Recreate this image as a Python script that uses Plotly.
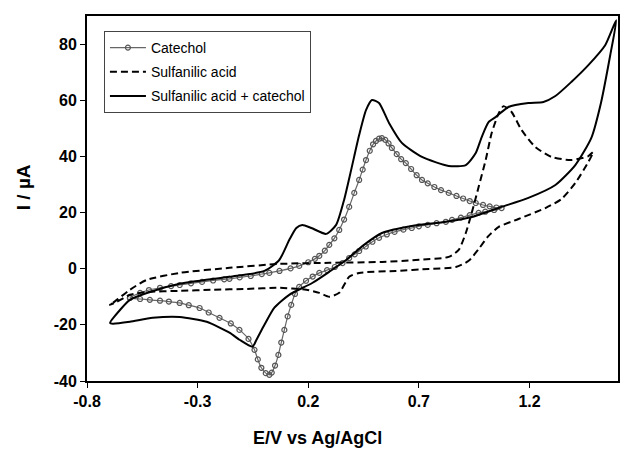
import plotly.graph_objects as go

# ---------------- data (E in V, I in uA) ----------------
cat_E = [-0.606, -0.56, -0.52, -0.47, -0.42, -0.381, -0.33, -0.28, -0.23, -0.18, -0.156, -0.11, -0.06, -0.01,
         0.024, 0.07, 0.12, 0.159, 0.20, 0.23, 0.250, 0.275, 0.295, 0.318, 0.340, 0.362, 0.385, 0.408, 0.430,
         0.446, 0.461, 0.478, 0.493, 0.506, 0.520, 0.533, 0.548, 0.563, 0.578, 0.60, 0.62, 0.641, 0.665, 0.69,
         0.714, 0.74, 0.77, 0.80, 0.835, 0.87, 0.90, 0.93, 0.957, 0.99, 1.02, 1.05, 1.074,
         1.04, 1.00, 0.970, 0.93, 0.89, 0.85, 0.822, 0.78, 0.74, 0.70, 0.668, 0.63, 0.59, 0.555, 0.520, 0.49,
         0.46, 0.43, 0.41, 0.385, 0.355, 0.32, 0.285, 0.25, 0.22, 0.19, 0.159, 0.14, 0.123, 0.107, 0.092, 0.078,
         0.065, 0.05, 0.035, 0.024, 0.008, -0.012, -0.028, -0.043, -0.07, -0.111, -0.15, -0.201, -0.25, -0.291,
         -0.34, -0.381, -0.43, -0.47, -0.516, -0.56, -0.606]
cat_I = [-10.4, -8.6, -7.6, -6.8, -6.2, -5.8, -5.2, -4.7, -4.2, -3.8, -3.6, -3.1, -2.6, -1.9,
         -1.5, -0.8, 0.1, 1.0, 2.3, 3.5, 4.6, 6.4, 8.5, 10.8, 13.8, 17.5, 22.0, 27.0, 31.6,
         35.3, 38.7, 42.0, 44.3, 45.5, 46.3, 46.5, 45.9, 44.6, 43.0, 40.8, 39.0, 37.6, 35.5, 33.3,
         31.6, 30.4, 29.1, 28.0, 27.0, 25.9, 25.0, 24.1, 23.4, 22.7, 22.2, 21.8, 21.6,
         20.9, 20.3, 19.9, 19.1, 18.2, 17.4, 16.7, 16.2, 15.6, 15.1, 14.5, 13.9, 13.1, 12.2, 11.0, 9.6,
         7.9, 6.3, 5.1, 3.8, 2.0, 0.6, -0.5, -1.5, -2.8, -4.3, -6.5, -9.0, -12.9, -17.0, -21.8, -26.3,
         -30.7, -34.5, -37.0, -37.8, -37.2, -35.3, -32.3, -28.9, -25.0, -21.8, -19.5, -17.5, -15.6, -14.0,
         -13.0, -12.2, -11.7, -11.4, -11.1, -10.8, -10.4]

sa_E = [-0.696, -0.683, -0.606, -0.530, -0.381, -0.156, 0.069, 0.295, 0.533, 0.686, 0.835, 0.880, 0.912,
        0.939, 0.970, 1.002, 1.029, 1.061, 1.083, 1.119, 1.164, 1.227, 1.299, 1.389, 1.466, 1.488,
        1.466, 1.407, 1.344, 1.272, 1.150, 1.061, 1.015, 0.970, 0.925, 0.867, 0.745, 0.596, 0.430, 0.385,
        0.340, 0.295, 0.250, 0.191, 0.069, -0.079, -0.232, -0.381, -0.530, -0.606, -0.665, -0.696]
sa_I = [-12.9, -12.2, -7.5, -4.0, -1.5, 0.3, 1.7, 2.1, 2.4, 3.1, 4.2, 6.7, 12.7,
        19.9, 29.1, 38.7, 48.3, 55.4, 57.9, 55.8, 49.4, 43.3, 39.8, 38.7, 40.1, 41.6,
        38.0, 30.5, 24.8, 21.6, 17.7, 14.9, 11.7, 7.0, 2.8, 0.6, -0.1, -0.8, -1.5, -2.9,
        -8.6, -10.0, -8.6, -7.5, -6.8, -7.2, -7.5, -7.9, -8.3, -9.3, -11.8, -12.9]

mix_E = [-0.696, -0.651, -0.606, -0.516, -0.381, -0.156, 0.002, 0.069, 0.114, 0.146, 0.173, 0.214, 0.281,
         0.326, 0.362, 0.394, 0.430, 0.461, 0.488, 0.520, 0.565, 0.623, 0.714, 0.835, 0.912, 0.957, 0.984,
         1.015, 1.047, 1.105, 1.195, 1.263, 1.317, 1.389, 1.466, 1.542, 1.592,
         1.565, 1.524, 1.479, 1.407, 1.317, 1.195, 1.074, 0.939, 0.822, 0.668, 0.533, 0.452, 0.371, 0.295,
         0.218, 0.114, 0.047, 0.002, -0.034, -0.052, -0.111, -0.156, -0.259, -0.381, -0.503, -0.606, -0.683,
         -0.696]
mix_I = [-19.3, -14.7, -11.1, -8.3, -5.4, -2.9, -0.8, 3.1, 10.2, 14.5, 15.6, 14.5, 12.4,
         15.6, 24.5, 35.2, 47.6, 56.5, 60.1, 59.0, 51.9, 44.8, 39.8, 36.6, 36.9, 41.2, 46.9,
         52.2, 54.0, 57.6, 59.0, 59.4, 61.5, 66.5, 72.5, 79.6, 88.5,
         76.1, 59.4, 46.5, 36.9, 29.8, 25.2, 22.0, 18.4, 16.7, 15.2, 12.7, 8.5, 3.1, -1.1,
         -5.1, -9.3, -13.9, -20.0, -25.3, -27.8, -25.3, -22.8, -18.9, -17.2, -17.5, -18.9, -19.6,
         -19.3]

series_names = ["Catechol", "Sulfanilic acid", "Sulfanilic acid + catechol"]
x_ticks = [-0.8, -0.3, 0.2, 0.7, 1.2]
y_ticks = [-40, -20, 0, 20, 40, 60, 80]

FONT = "Arial, Liberation Sans, sans-serif"

fig = go.Figure()
fig.add_trace(go.Scatter(
    x=cat_E, y=cat_I, name=series_names[0], mode="lines+markers",
    line=dict(color="#666666", width=1.2, shape="spline", smoothing=0.6),
    marker=dict(symbol="circle-open", size=5, color="#555555", line=dict(width=1.2)),
    legendgroup="a"))
fig.add_trace(go.Scatter(
    x=sa_E, y=sa_I, name=series_names[1], mode="lines",
    line=dict(color="black", width=2, dash="7px,4px", shape="spline", smoothing=0.6),
    legendgroup="b"))
fig.add_trace(go.Scatter(
    x=mix_E, y=mix_I, name=series_names[2], mode="lines",
    line=dict(color="black", width=2, shape="spline", smoothing=0.6),
    legendgroup="c"))

axis_common = dict(
    showgrid=False, zeroline=False, showline=True, linecolor="black", linewidth=2,
    mirror=True, ticks="outside", ticklen=5, tickcolor="black", tickwidth=1,
    tickfont=dict(family=FONT, size=16, color="black", weight="bold"),
)
fig.update_xaxes(range=[-0.8, 1.6], tickvals=x_ticks, ticktext=[f"{v:.1f}" for v in x_ticks], **axis_common)
fig.update_yaxes(range=[-40, 90], tickvals=y_ticks, ticktext=[str(v) for v in y_ticks], **axis_common)

fig.add_annotation(text="E/V vs Ag/AgCl", xref="paper", yref="paper", x=(318 - 87) / 533, y=-0.155,
                   showarrow=False, xanchor="center", yanchor="middle",
                   font=dict(family=FONT, size=18, color="black", weight="bold"))
fig.add_annotation(text="I / µA", xref="paper", yref="paper", x=(23 - 87) / 533, y=(381 - 187) / 365,
                   showarrow=False, xanchor="center", yanchor="middle", textangle=-90,
                   font=dict(family=FONT, size=19, color="black", weight="bold"))

fig.update_layout(
    width=621, height=450,
    margin=dict(l=87, r=1, t=16, b=69),
    paper_bgcolor="white", plot_bgcolor="white",
    showlegend=True,
    legend=dict(x=(104 - 87) / 533, y=1 - (31 - 16) / 365, xanchor="left", yanchor="top",
                bgcolor="white", bordercolor="#444444", borderwidth=1,
                font=dict(family=FONT, size=14, color="black"),
                tracegroupgap=3, itemwidth=36),
)

fig.write_html("out.html")
